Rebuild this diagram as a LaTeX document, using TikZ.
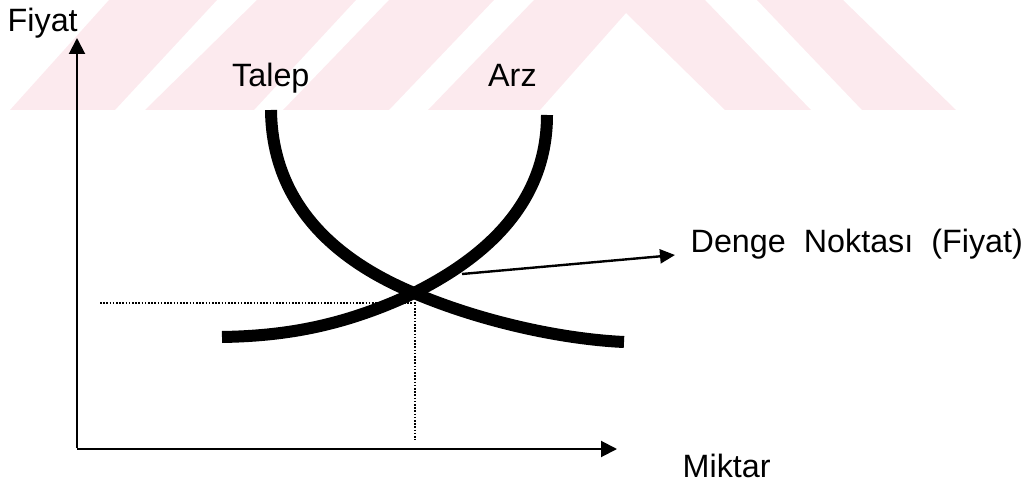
\documentclass[tikz,border=0pt]{standalone}
\usepackage{fontspec}
\setmainfont{Liberation Sans}
\usetikzlibrary{arrows.meta}
\definecolor{wm}{RGB}{252,234,238}
\begin{document}
\begin{tikzpicture}[x=1pt,y=-1pt,
  lbl/.style={inner sep=0pt, anchor=base west, font=\fontsize{32.3}{38}\selectfont},
  axis/.style={line width=2pt, -{Triangle[length=16pt,width=16pt]}},
  curve/.style={line width=12pt, line cap=butt},
  guide/.style={line width=1.6pt, dash pattern=on 1.6pt off 1.6pt},
  pointer/.style={line width=2.4pt, -{Triangle[length=15pt,width=14pt]}},
  wmark/.style={fill=wm, draw=none}]
\useasboundingbox (0,0) rectangle (1028,484);
% watermark
\path[wmark] (10,110) -- (115,110) -- (217,0) -- (109,0) -- cycle;
\path[wmark] (145,110) -- (254,110) -- (356,0) -- (257,0) -- cycle;
\path[wmark] (283,110) -- (389,110) -- (494,0) -- (389,0) -- cycle;
\path[wmark] (428,110) -- (540,110) -- (626,13) -- (725,110) -- (811,110) -- (705,0) -- (534,0) -- cycle;
\path[wmark] (757,0) -- (843,0) -- (956,110) -- (862,110) -- cycle;
% coordinates
\coordinate (O) at (77,449);
\coordinate (ytip) at (77,38);
\coordinate (xtip) at (617,449);
\coordinate (eq) at (415,303);
\coordinate (hstart) at (100,303);
\coordinate (vend) at (415,440);
\coordinate (ps) at (462,274);
\coordinate (ptip) at (675,255);
% axes
\draw[axis] ([yshift=1pt]O) -- (ytip);
\draw[axis] (O) -- (xtip);
% guides
\draw[guide] (hstart) -- (eq) -- (vend);
% curves
\draw[curve] (271,110) .. controls (272,200) and (330,258) .. (414,293)
  .. controls (480,321) and (560,339) .. (624,342);
\draw[curve] (547,115) .. controls (547,200) and (490,255) .. (414,293)
  .. controls (340,328) and (280,336) .. (222,337);
% pointer
\draw[pointer] (ps) -- (ptip);
% labels
\node[lbl] (fiyat) at (7.5,32) {Fiyat};
\node[lbl] (talep) at (232,87) {Talep};
\node[lbl] (arz) at (488,87) {Arz};
\node[lbl] (denge) at (690.5,252) {Denge\hspace{18pt}Noktası\hspace{18pt}(Fiyat)};
\node[lbl] (miktar) at (682.5,477) {Miktar};
\end{tikzpicture}
\end{document}
